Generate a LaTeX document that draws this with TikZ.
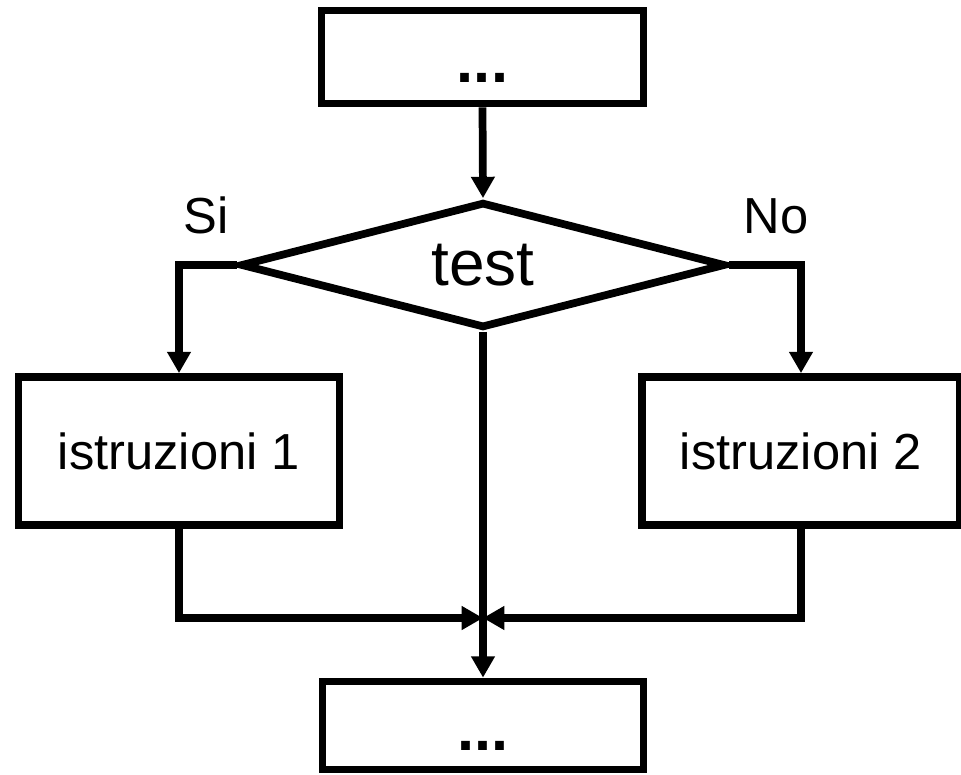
\documentclass[tikz,border=0pt]{standalone}
\usepackage{fontspec}
\setmainfont{Liberation Sans}
\usetikzlibrary{shapes.geometric,arrows.meta}
\tikzset{
  box/.style={draw=black, line width=5.8pt, rectangle, inner sep=0pt,
    font=\fontsize{38}{40}\selectfont},
  dotsbox/.style={box, text height=38pt, text depth=0pt,
    font=\fontsize{46}{48}\selectfont\bfseries},
  testshape/.style={draw=black, line width=5.8pt, diamond, inner sep=0pt,
    minimum width=363.75pt, minimum height=94.5pt, aspect=3,
    font=\fontsize{48}{50}\selectfont},
  conn/.style={line width=5.8pt, -{Triangle[length=16pt,width=17pt]}},
  lbl/.style={anchor=base, inner sep=0pt, font=\fontsize{38}{40}\selectfont}
}
\begin{document}
\begin{tikzpicture}[x=0.75pt,y=-0.75pt]
\useasboundingbox (0,0) rectangle (961,775);
\node[dotsbox, minimum width=241.5pt, minimum height=69.75pt] (top) at (482.5,57) {...};
\node[testshape] (d) at (483,265) {test};
\node[box, minimum width=240.75pt, minimum height=111pt] (l) at (179,451) {istruzioni 1};
\node[box, minimum width=238pt, minimum height=111pt] (r) at (801,451) {istruzioni 2};
\node[dotsbox, minimum width=240.75pt, minimum height=66pt] (b) at (483,725.5) {...};
\coordinate (j) at (483,618);
\node[lbl] (si) at (206,233) {Si};
\node[lbl] (no) at (776,233) {No};
\draw[conn] (top.south) -- (d.north);
\draw[conn] (d.west) -| (l.north);
\draw[conn] (d.east) -| (r.north);
\draw[conn] (d.south) -- (b.north);
\draw[conn] (l.south) |- (j);
\draw[conn] (r.south) |- (j);
\end{tikzpicture}
\end{document}
